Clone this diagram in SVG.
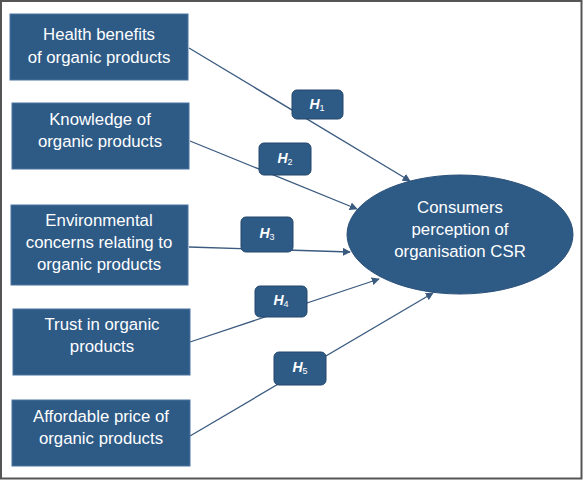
<svg xmlns="http://www.w3.org/2000/svg" width="583" height="480" viewBox="0 0 583 480">
<style>
.box{fill:#2e5a86;stroke:#4a75a0;stroke-width:1}
.lbl{fill:#2e5a86;stroke:#24476b;stroke-width:1}
.t{font-family:"Liberation Sans",Arial,sans-serif;font-size:16.8px;fill:#ffffff;text-anchor:middle}
.h{font-family:"Liberation Sans",Arial,sans-serif;font-size:14px;font-style:italic;font-weight:bold;fill:#ffffff;text-anchor:middle}
.h tspan.s{font-size:9px;font-style:normal;font-weight:normal}
.c{stroke:#3a5a7f;stroke-width:1.3;fill:none;marker-end:url(#ah)}
</style>
<defs>
<marker id="ah" viewBox="0 0 10 10" refX="9" refY="5" markerWidth="8" markerHeight="8" markerUnits="userSpaceOnUse" orient="auto">
<path d="M0,0 L10,5 L0,10 z" fill="#3a5a7f"/>
</marker>
</defs>
<rect x="0" y="0" width="583" height="480" fill="#ffffff"/>
<rect x="1" y="1" width="580.5" height="477.5" fill="none" stroke="#555555" stroke-width="2"/>
<g id="connectors">
<line class="c" x1="189" y1="48" x2="410" y2="181"/>
<line class="c" x1="190" y1="141" x2="357" y2="209"/>
<line class="c" x1="189" y1="247" x2="350" y2="252"/>
<line class="c" x1="190" y1="342" x2="379" y2="279"/>
<line class="c" x1="190" y1="436" x2="433" y2="293"/>
</g>
<g id="n1"><rect class="box" x="10" y="14" width="178" height="66"/>
<text class="t" x="99" y="40">Health benefits</text><text class="t" x="99" y="63">of organic products</text></g>
<g id="n2"><rect class="box" x="12" y="103" width="177" height="66"/>
<text class="t" x="100" y="125">Knowledge of</text><text class="t" x="100" y="147">organic products</text></g>
<g id="n3"><rect class="box" x="11" y="205" width="177" height="80"/>
<text class="t" x="99" y="226">Environmental</text><text class="t" x="99" y="248">concerns relating to</text><text class="t" x="99" y="270">organic products</text></g>
<g id="n4"><rect class="box" x="13" y="309" width="177" height="66"/>
<text class="t" x="102" y="330">Trust in organic</text><text class="t" x="102" y="352">products</text></g>
<g id="n5"><rect class="box" x="12" y="400" width="178" height="66"/>
<text class="t" x="101" y="422">Affordable price of</text><text class="t" x="101" y="444">organic products</text></g>
<g id="target"><ellipse cx="460" cy="234.5" rx="113" ry="59.5" fill="#2e5a86" stroke="#2a5078" stroke-width="1"/>
<text class="t" x="460" y="213">Consumers</text><text class="t" x="460" y="235">perception of</text><text class="t" x="460" y="257">organisation CSR</text></g>
<g id="h1"><rect class="lbl" x="292" y="90" width="51" height="29" rx="5"/><text class="h" x="317" y="109">H<tspan class="s" dy="2">1</tspan></text></g>
<g id="h2"><rect class="lbl" x="259" y="143" width="52" height="32" rx="5"/><text class="h" x="285" y="163">H<tspan class="s" dy="2">2</tspan></text></g>
<g id="h3"><rect class="lbl" x="241" y="217" width="52" height="35" rx="5"/><text class="h" x="267" y="238">H<tspan class="s" dy="2">3</tspan></text></g>
<g id="h4"><rect class="lbl" x="255" y="286" width="52" height="31" rx="5"/><text class="h" x="281" y="305">H<tspan class="s" dy="2">4</tspan></text></g>
<g id="h5"><rect class="lbl" x="274" y="352" width="52" height="33" rx="5"/><text class="h" x="300" y="372">H<tspan class="s" dy="2">5</tspan></text></g>
</svg>
